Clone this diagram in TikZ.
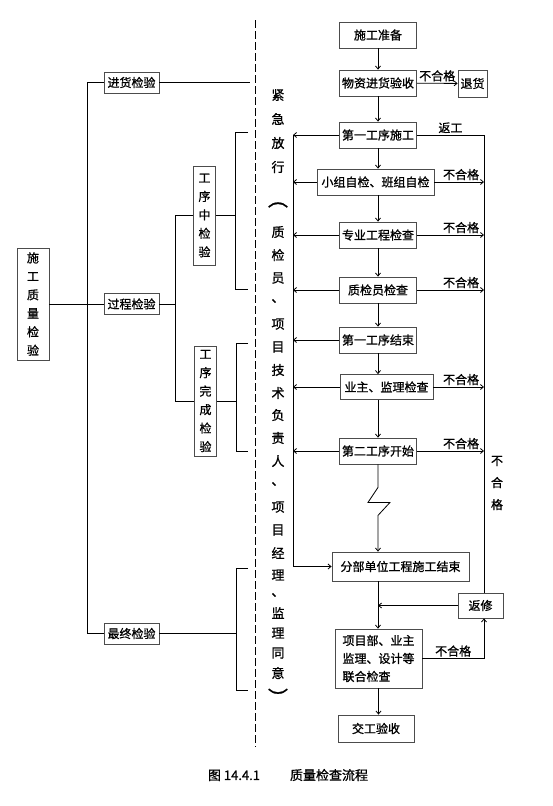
\documentclass[tikz,border=0pt]{standalone}
\usepackage{fontspec}
\setmainfont{Noto Sans CJK SC}[FakeBold=1]
\usetikzlibrary{arrows.meta, positioning}

\begin{document}
\begin{tikzpicture}[x=1pt, y=-1pt,
  box/.style={draw=black!70, line width=0.8pt, minimum width=77pt, minimum height=26pt, inner sep=1pt, align=center, font=\fontsize{12}{14}\selectfont},
  vbox/.style={box, minimum width=22pt, inner sep=2pt, font=\fontsize{12}{18.5}\selectfont},
  line/.style={line width=0.8pt},
  arr/.style={line, -{Straight Barb[length=3pt,width=5pt]}},
  lbl/.style={font=\fontsize{12}{14}\selectfont, inner sep=1.5pt},
  vtxt/.style={align=center, inner sep=0pt, font=\fontsize{13}{23.3}\selectfont},
  paren/.style={inner sep=0pt, font=\fontsize{20}{20}\selectfont},
  captxt/.style={font=\fontsize{13}{15}\selectfont, inner sep=0pt}
]
  \useasboundingbox (0,0) rectangle (553,806);

  % ----- helper coordinates -----
  \coordinate (tx) at (87,0);
  \coordinate (px) at (175,0);
  \coordinate (lx) at (293,0);
  \coordinate (rx) at (484,0);

  % ----- left tree -----
  \node[vbox, minimum width=32pt, minimum height=112pt] (qual) at (33,304) {施\\工\\质\\量\\检\\验};
  \node[box, minimum width=55pt, minimum height=21pt] (inc)  at (131.5,82.5) {进货检验};
  \node[box, minimum width=55pt, minimum height=21pt] (proc) at (131.5,304) {过程检验};
  \node[box, minimum width=55pt, minimum height=21pt] (fin)  at (131.5,633.5) {最终检验};
  \node[vbox, minimum height=99pt]  (mid)  at (204.5,215.5) {工\\序\\中\\检\\验};
  \node[vbox, minimum height=110pt] (done) at (205.5,401) {工\\序\\完\\成\\检\\验};

  \draw[line] (qual.east) -- (proc.west);
  \draw[line] (inc.west) -| (tx |- fin) -- (fin.west);
  \draw[line] (proc.east) -- (px |- proc);
  \draw[line] (mid.west) -| (px |- done) -- (done.west);
  \draw[line] (inc.east) -- (250,82.5);

  % brackets
  \draw[line] (mid.east) -- (235.5,215.5);
  \draw[line] (248,132) -- (235.5,132) -- (235.5,289) -- (248,289);
  \draw[line] (done.east) -- (236,401);
  \draw[line] (248,343) -- (236,343) -- (236,451) -- (248,451);
  \draw[line] (fin.east) -- (236,633.5);
  \draw[line] (248,568) -- (236,568) -- (236,690) -- (248,690);

  % ----- dashed divider + emergency text -----
  \draw[line, dash pattern=on 8pt off 3pt] (255,20) -- (255,747);
  \foreach \c/\y [count=\i] in {紧/95, 急/119, 放/143, 行/167, 质/232, 检/255, 员/278, 、/301,
      项/324, 目/347, 技/370, 术/393, 负/415, 责/438, 人/461, 、/484, 项/507, 目/530,
      经/553, 理/575, 、/595, 监/613, 理/633, 同/653, 意/673}
    \node[vtxt] (u\i) at (278,\y) {\c};
  \node[paren] (lp) at (278,205) {︵};
  \node[paren] (rp) at (278,697) {︶};

  % ----- main flow -----
  \node[box] (prep) at (378,35) {施工准备};
  \node[box] (mat) at (378,83) {物资进货验收};
  \node[box, minimum width=29pt, minimum height=27pt] (ret) at (472.5,83.5) {退货};
  \node[box] (s1) at (378,135) {第一工序施工};
  \node[box, minimum width=117pt] (self) at (375.5,182) {小组自检、班组自检};
  \node[box] (prof) at (378,235) {专业工程检查};
  \node[box] (qc) at (378,290) {质检员检查};
  \node[box] (s1end) at (378,340) {第一工序结束};
  \node[box, minimum width=93pt, minimum height=25pt] (owner) at (386.5,387) {业主、监理检查};
  \node[box] (s2) at (378,451) {第二工序开始};
  \node[box, minimum width=137pt, minimum height=29pt] (sub) at (400.5,566.5) {分部单位工程施工结束};
  \node[box, minimum width=45pt, minimum height=25pt] (rep) at (480.5,605.5) {返修};
  \node[box, minimum width=87pt, minimum height=59pt, align=left, font=\fontsize{12}{18}\selectfont] (joint) at (378.5,658.5) {项目部、业主\\监理、设计等\\联合检查};
  \node[box, minimum width=76pt, minimum height=27pt] (accept) at (376,728.5) {交工验收};

  % down the middle
  \draw[arr] (prep) -- (mat);
  \draw[arr] (mat) -- node[lbl, above] {不合格} (ret);
  \draw[arr] (mat) -- (s1);
  \draw[arr] (s1.south) -- (s1.south |- self.north);
  \draw[arr] (s1 |- self.south) -- (prof);
  \draw[arr] (prof) -- (qc);
  \draw[arr] (qc) -- (s1end);
  \draw[arr] (s1end) -- (s1end |- owner.north);
  \draw[arr] (s1end |- owner.south) -- (s2);
  \draw[arr] (s2.south) -- ++(0,23) -- ++(-10,15) -- ++(22,0) -- ++(-12,13) -- (s2.south |- sub.north);
  \draw[arr] (s1 |- sub.south) -- (s1 |- joint.north);
  \draw[arr] (joint) -- (joint |- accept.north);

  % emergency release (left)
  \foreach \n in {s1,self,prof,qc,s1end,owner,s2}
    \draw[arr] (\n.west) -- (lx |- \n);
  \draw[arr] (lx |- s1) -- (lx |- sub) -- (sub.west);

  % rework (right)
  \draw[line] (s1.east) -- node[lbl, above] {返工} (rx |- s1) -- (rx |- rep.north);
  \foreach \n in {self,prof,qc,owner,s2}
    \draw[arr] (\n.east) -- node[lbl, pos=1, anchor=south east, xshift=-3pt] {不合格} (rx |- \n);
  \node[vtxt, font=\fontsize{12}{22}\selectfont] (fail) at (497,483) {不\\合\\格};
  \draw[arr] (rep.west) -- (s1 |- rep);
  \draw[arr] (joint.east) -| node[lbl, above, pos=0.25] {不合格} (rx |- rep.south);

  % caption
  \node[captxt] (title) at (288,775) {图 14.4.1\hspace{30pt}质量检查流程};
\end{tikzpicture}
\end{document}
